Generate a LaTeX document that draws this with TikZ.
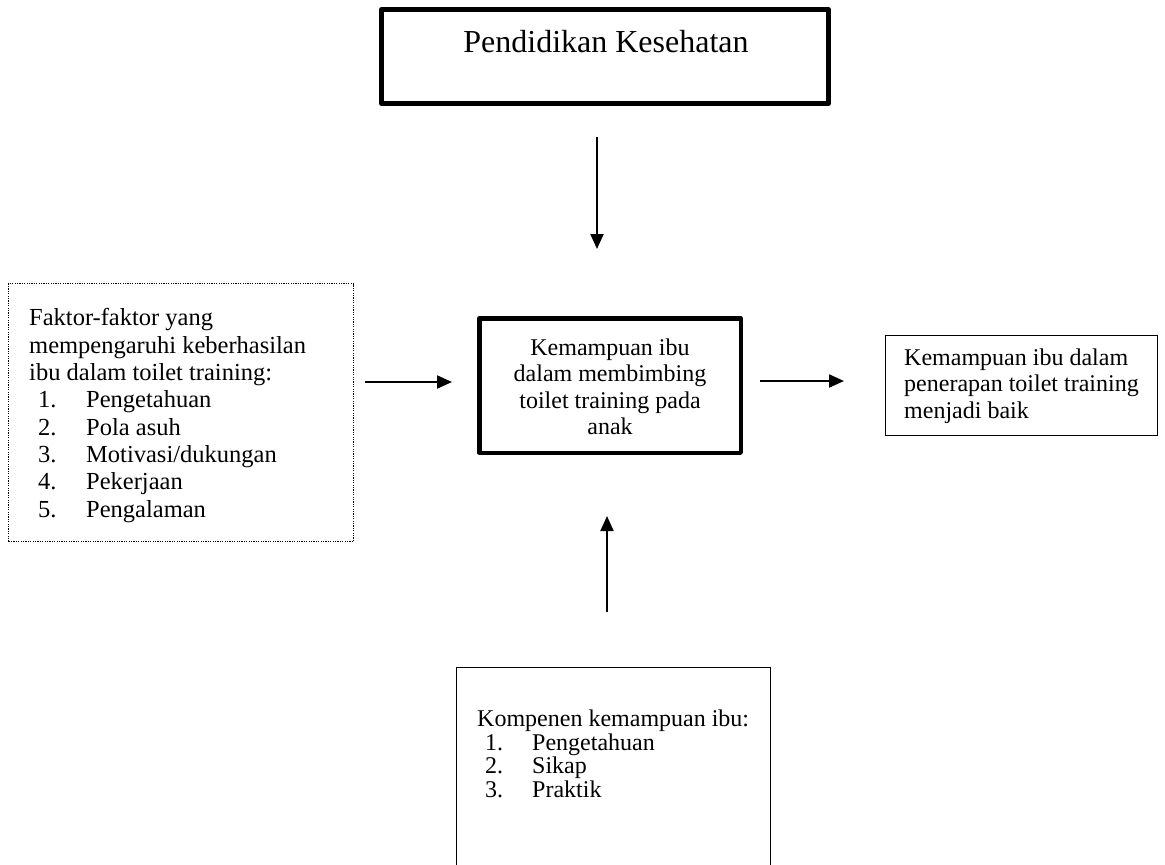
\documentclass[tikz,border=0pt]{standalone}
\usepackage{fontspec}
\setmainfont{Liberation Serif}
\usetikzlibrary{arrows.meta}
\begin{document}
\begin{tikzpicture}[x=1pt,y=1pt,
  body/.style={font=\fontsize{24}{26.5}\selectfont, inner sep=0pt},
  thickbox/.style={draw, line width=5pt, line join=round, inner sep=0pt},
  midbox/.style={draw, line width=4.5pt, line join=round, inner sep=0pt},
  thinbox/.style={draw, line width=1pt, inner sep=0pt},
  dotbox/.style={draw, line width=0.9pt, dash pattern=on 1.2pt off 1.2pt, inner sep=0pt},
  arr/.style={line width=2pt, -{Triangle[length=15pt,width=13pt]}}]
\useasboundingbox (0,0) rectangle (1165,-865);

% boxes
\node (top) [thickbox, minimum width=447, minimum height=94] at (605,-56.5) {};
\node (toptext) [font=\fontsize{32}{36}\selectfont, inner sep=0pt, anchor=base] at (606,-52) {Pendidikan Kesehatan};

\node (mid) [midbox, minimum width=261.5, minimum height=134.5] at (610,-385.5) {};
\node (midtext) [body, align=center] at (610,-387) {Kemampuan ibu\\dalam membimbing\\toilet training pada\\anak};

\node (left) [dotbox, minimum width=345, minimum height=258] at (181,-412.5) {};
\node (lefttext) [body, align=left, anchor=north west, font=\fontsize{24.5}{27.3}\selectfont] at (29,-308.5) {Faktor-faktor yang\\mempengaruhi keberhasilan\\ibu dalam toilet training:\\
\hspace*{9pt}\makebox[48pt][l]{1.}Pengetahuan\\
\hspace*{9pt}\makebox[48pt][l]{2.}Pola asuh\\
\hspace*{9pt}\makebox[48pt][l]{3.}Motivasi/dukungan\\
\hspace*{9pt}\makebox[48pt][l]{4.}Pekerjaan\\
\hspace*{9pt}\makebox[48pt][l]{5.}Pengalaman};

\node (right) [thinbox, minimum width=272, minimum height=100] at (1021.5,-385.5) {};
\node (righttext) [body, align=left, anchor=north west] at (904,-348.5) {Kemampuan ibu dalam\\penerapan toilet training\\menjadi baik};

\node (bot) [inner sep=0pt, minimum width=313, minimum height=200] at (613.5,-768) {};
\draw[line width=1pt] (bot.south west) -- (bot.north west) -- (bot.north east) -- (bot.south east);
\node (bottext) [body, align=left, anchor=north west, font=\fontsize{24}{23.4}\selectfont] at (477,-710) {Kompenen kemampuan ibu:\\
\hspace*{8pt}\makebox[47pt][l]{1.}Pengetahuan\\
\hspace*{8pt}\makebox[47pt][l]{2.}Sikap\\
\hspace*{8pt}\makebox[47pt][l]{3.}Praktik};

% arrow endpoints
\coordinate (d1) at (597,-137);
\coordinate (d2) at (597,-249);
\coordinate (l1) at (365,-382);
\coordinate (l2) at (452,-382);
\coordinate (r1) at (760,-381);
\coordinate (r2) at (844,-381);
\coordinate (u1) at (607,-612);
\coordinate (u2) at (607,-516);

\draw[arr] (d1) -- (d2);
\draw[arr] (l1) -- (l2);
\draw[arr] (r1) -- (r2);
\draw[arr] (u1) -- (u2);
\end{tikzpicture}
\end{document}
